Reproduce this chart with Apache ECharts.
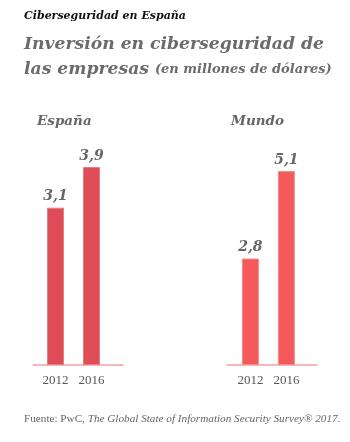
<!DOCTYPE html>
<html><head><meta charset="utf-8">
<script src="https://cdn.jsdelivr.net/npm/echarts@6/dist/echarts.min.js"></script>
<style>html,body{margin:0;padding:0;background:#fff}#c{width:350px;height:442px}</style>
</head><body><div id="c"></div>
<script>
const years = [2012, 2016];
const espana = [3.1, 3.9];
const mundo = [2.8, 5.1];
const panelNames = ['España', 'Mundo'];
const fmt = v => String(v).replace('.', ',');
const serif = '"Liberation Serif", serif';
const dserif = '"DejaVu Serif", serif';
const chart = echarts.init(document.getElementById('c'));
const xAx = (gi, min, max) => ({
  type: 'value', gridIndex: gi, min: min, max: max,
  splitLine: {show: false},
  axisLine: {show: true, onZero: false, lineStyle: {color: '#f2a0a0', width: 1.5}},
  axisTick: {show: false},
  axisLabel: {customValues: years, formatter: v => String(v), color: '#555', fontFamily: serif, fontSize: 13, margin: 9}
});
const yAx = (gi, max) => ({type: 'value', gridIndex: gi, min: 0, max: max, show: false});
const barS = (gi, vals, color, border) => ({
  type: 'bar', xAxisIndex: gi, yAxisIndex: gi, barWidth: 17,
  data: years.map((y, i) => [y, vals[i]]),
  itemStyle: {color: color, borderColor: border, borderWidth: 1},
  label: {show: true, position: 'top', distance: 4, formatter: p => fmt(p.value[1]),
    fontFamily: dserif, fontStyle: 'italic', fontWeight: 'bold', fontSize: 14, color: '#666'}
});
chart.setOption({
  animation: false,
  title: [
    {text: 'Ciberseguridad en España', left: 24, top: 11, padding: 0,
     textStyle: {fontFamily: dserif, fontStyle: 'italic', fontWeight: 'bold', fontSize: 11, color: '#111'}},
    {text: 'Inversión en ciberseguridad de\n{a|las empresas} {b|(en millones de dólares)}', left: 24, top: 32, padding: 0,
     textStyle: {fontFamily: dserif, fontStyle: 'italic', fontWeight: 'bold', fontSize: 17.2, color: '#6b6b6b', lineHeight: 25,
       rich: {a: {fontFamily: dserif, fontStyle: 'italic', fontWeight: 'bold', fontSize: 17.2, color: '#6b6b6b', lineHeight: 25},
              b: {fontFamily: dserif, fontStyle: 'italic', fontWeight: 'bold', fontSize: 13, color: '#6b6b6b', lineHeight: 25}}}},
    {text: panelNames[0], left: 37, top: 114, padding: 0,
     textStyle: {fontFamily: dserif, fontStyle: 'italic', fontWeight: 'bold', fontSize: 13.5, color: '#666'}},
    {text: panelNames[1], left: 231, top: 114, padding: 0,
     textStyle: {fontFamily: dserif, fontStyle: 'italic', fontWeight: 'bold', fontSize: 13.5, color: '#666'}},
    {text: 'Fuente: PwC, {i|The Global State of Information Security Survey® 2017.}', left: 24, top: 414, padding: 0,
     textStyle: {fontFamily: serif, fontWeight: 'normal', fontSize: 11.2, color: '#666',
       rich: {i: {fontFamily: serif, fontStyle: 'italic', fontWeight: 'normal', fontSize: 11.2, color: '#666'}}}}
  ],
  grid: [
    {left: 33, width: 90, top: 130, bottom: 77},
    {left: 227, width: 90, top: 130, bottom: 77}
  ],
  xAxis: [xAx(0, 2009.5, 2019.5), xAx(1, 2009.4, 2019.4)],
  yAxis: [yAx(0, 4.63), yAx(1, 6.18)],
  series: [barS(0, espana, '#de4d57', '#e87a80'), barS(1, mundo, '#f45a5c', '#f88a8a')]
});
</script></body></html>
